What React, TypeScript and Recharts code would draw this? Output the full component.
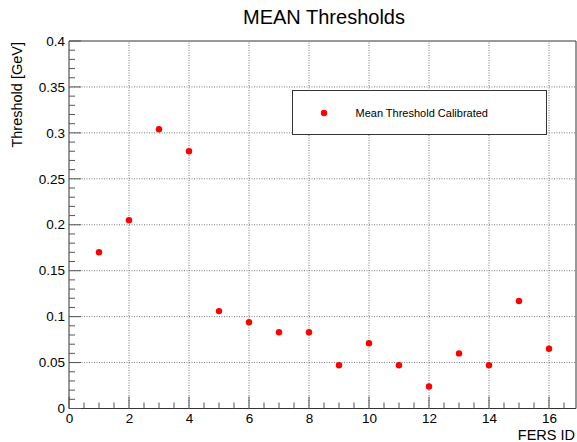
import React from 'react';
import {
  ScatterChart,
  Scatter,
  XAxis,
  YAxis,
  ReferenceLine,
  ReferenceArea,
  Legend,
} from 'recharts';

const fersIds = [1, 2, 3, 4, 5, 6, 7, 8, 9, 10, 11, 12, 13, 14, 15, 16];
const meanThreshold = [
  0.170, 0.205, 0.304, 0.280, 0.106, 0.094, 0.083, 0.083,
  0.047, 0.071, 0.047, 0.024, 0.060, 0.047, 0.117, 0.065,
];

const xTicks = [
  0, 0.5, 1, 1.5, 2, 2.5, 3, 3.5, 4, 4.5, 5, 5.5, 6, 6.5, 7, 7.5, 8, 8.5,
  9, 9.5, 10, 10.5, 11, 11.5, 12, 12.5, 13, 13.5, 14, 14.5, 15, 15.5, 16, 16.5,
];
const xLabelTicks = [0, 2, 4, 6, 8, 10, 12, 14, 16];
const xGridValues = [2, 4, 6, 8, 10, 12, 14, 16];

const yTicks = [
  0, 0.01, 0.02, 0.03, 0.04, 0.05, 0.06, 0.07, 0.08, 0.09, 0.1, 0.11, 0.12,
  0.13, 0.14, 0.15, 0.16, 0.17, 0.18, 0.19, 0.2, 0.21, 0.22, 0.23, 0.24, 0.25,
  0.26, 0.27, 0.28, 0.29, 0.3, 0.31, 0.32, 0.33, 0.34, 0.35, 0.36, 0.37, 0.38,
  0.39, 0.4,
];
const yLabelTicks = [0, 0.05, 0.1, 0.15, 0.2, 0.25, 0.3, 0.35, 0.4];
const yGridValues = [0.05, 0.1, 0.15, 0.2, 0.25, 0.3, 0.35];

const X_DOMAIN: [number, number] = [0, 16.9];
const Y_DOMAIN: [number, number] = [0, 0.4];

const title = 'MEAN Thresholds';
const xTitle = 'FERS ID';
const yTitle = 'Threshold [GeV]';
const seriesName = 'Mean Threshold Calibrated';

const FONT = '"Liberation Sans", Arial, Helvetica, sans-serif';
const TICK_COLOR = '#555';

const data = fersIds.map((id, i) => ({ id, value: meanThreshold[i] }));

const near = (a: number, b: number) => Math.abs(a - b) < 1e-9;

function XTick(props: any) {
  const { x, y, payload } = props;
  const v = payload.value as number;
  const major = xLabelTicks.some((t) => near(t, v));
  return (
    <g>
      <line x1={x} x2={x} y1={y} y2={y - (major ? 12 : 6)} stroke={TICK_COLOR} strokeWidth={1} />
      {major && (
        <text x={x + 0.5} y={y + 14} textAnchor="middle" fontSize={13.5} fontFamily={FONT} fill="#000">
          {String(v)}
        </text>
      )}
    </g>
  );
}

function YTick(props: any) {
  const { x, y, payload } = props;
  const v = payload.value as number;
  const major = yLabelTicks.some((t) => near(t, v));
  return (
    <g>
      <line x1={x} x2={x + (major ? 12 : 6)} y1={y} y2={y} stroke={TICK_COLOR} strokeWidth={1} />
      {major && (
        <text x={x - 4} y={y} dy="0.35em" textAnchor="end" fontSize={13.5} fontFamily={FONT} fill="#000">
          {String(v)}
        </text>
      )}
    </g>
  );
}

function XTitle(props: any) {
  const vb = props.viewBox || {};
  return (
    <text
      x={(vb.x ?? 0) + (vb.width ?? 0) - 1}
      y={(vb.y ?? 0) + 31}
      textAnchor="end"
      fontSize={14.5}
      fontFamily={FONT}
      fill="#000"
    >
      {xTitle}
    </text>
  );
}

function YTitle(props: any) {
  const vb = props.viewBox || {};
  const top = vb.y ?? 0;
  const tx = 22;
  const ty = top + 1;
  return (
    <text
      x={tx}
      y={ty}
      transform={`rotate(-90 ${tx} ${ty})`}
      textAnchor="end"
      fontSize={14.5}
      fontFamily={FONT}
      fill="#000"
    >
      {yTitle}
    </text>
  );
}

function LegendBox(props: any) {
  const item = (props.payload && props.payload[0]) || {};
  return (
    <div
      style={{
        boxSizing: 'border-box',
        width: 255,
        height: 45,
        border: '1px solid #333',
        background: '#fff',
        position: 'relative',
        fontFamily: FONT,
      }}
    >
      <svg width={10} height={10} style={{ position: 'absolute', left: 26.5, top: 17.5 }}>
        <circle cx={5} cy={5} r={3.2} fill="#ff0000" />
      </svg>
      <span
        style={{
          position: 'absolute',
          left: 63,
          top: 15,
          fontSize: 11,
          lineHeight: '14px',
          color: '#000',
          whiteSpace: 'nowrap',
        }}
      >
        {item.value || seriesName}
      </span>
    </div>
  );
}

const RedDot = (props: any) => {
  const { cx, cy } = props;
  if (cx == null || cy == null) return null;
  return <circle cx={cx} cy={cy} r={3.2} fill="#ff0000" />;
};

export default function App() {
  return (
    <div style={{ position: 'absolute', left: 0, top: 0, width: 577, height: 442, background: '#fff' }}>
      <div
        style={{
          position: 'absolute',
          left: 0,
          top: 7,
          width: 648,
          textAlign: 'center',
          fontFamily: FONT,
          fontSize: 20,
          lineHeight: '20px',
          color: '#000',
          whiteSpace: 'nowrap',
          zIndex: 2,
        }}
      >
        {title}
      </div>
      <ScatterChart
        width={577}
        height={442}
        margin={{ top: 41, right: 1, bottom: 32.5, left: 68 }}
        style={{ fontFamily: FONT }}
      >
        <XAxis
          type="number"
          dataKey="id"
          domain={X_DOMAIN}
          ticks={xTicks}
          interval={0}
          tickSize={0}
          tickMargin={0}
          axisLine={false}
          tickLine={false}
          tick={<XTick />}
          height={1}
          allowDataOverflow
          label={<XTitle />}
        />
        <YAxis
          type="number"
          dataKey="value"
          domain={Y_DOMAIN}
          ticks={yTicks}
          interval={0}
          tickSize={0}
          tickMargin={0}
          axisLine={false}
          tickLine={false}
          tick={<YTick />}
          width={1}
          allowDataOverflow
          label={<YTitle />}
        />
        {yGridValues.map((v) => (
          <ReferenceLine key={'h' + v} y={v} stroke="#777" strokeDasharray="1 1.5" strokeWidth={1} />
        ))}
        {xGridValues.map((v) => (
          <ReferenceLine key={'v' + v} x={v} stroke="#777" strokeDasharray="1 1.5" strokeWidth={1} />
        ))}
        <ReferenceArea
          x1={X_DOMAIN[0]}
          x2={X_DOMAIN[1]}
          y1={Y_DOMAIN[0]}
          y2={Y_DOMAIN[1]}
          fill="none"
          fillOpacity={0}
          stroke="#333"
          strokeWidth={1}
          ifOverflow="visible"
        />
        <Legend
          layout="horizontal"
          verticalAlign="middle"
          align="center"
          wrapperStyle={{ position: 'absolute', left: 291.5, top: 89.5, width: 255, height: 45 }}
          content={<LegendBox />}
        />
        <Scatter
          name={seriesName}
          data={data}
          fill="#ff0000"
          shape={<RedDot />}
          isAnimationActive={false}
        />
      </ScatterChart>
    </div>
  );
}
